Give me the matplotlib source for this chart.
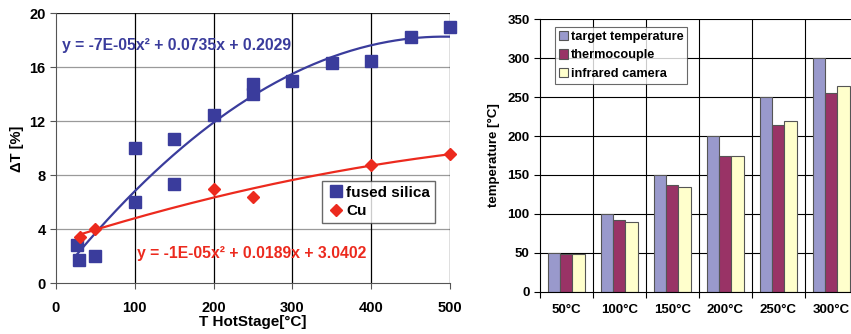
import numpy as np
import matplotlib
matplotlib.use("Agg")
import matplotlib.pyplot as plt

plt.rcParams['font.family'] = ['Liberation Sans', 'DejaVu Sans']
plt.rcParams['font.weight'] = 'bold'

# left chart: delta T vs hot stage temperature
silica_x = [27, 29, 50, 100, 100, 150, 150, 200, 250, 250, 300, 350, 400, 450, 500]
silica_y = [2.85, 1.75, 2.0, 10.0, 6.0, 10.7, 7.35, 12.5, 14.8, 14.0, 15.0, 16.3, 16.5, 18.25, 19.0]
cu_x = [30, 50, 200, 250, 400, 500]
cu_y = [3.45, 4.05, 7.0, 6.4, 8.75, 9.6]
silica_eq = "y = -7E-05x² + 0.0735x + 0.2029"
cu_eq = "y = -1E-05x² + 0.0189x + 3.0402"

# right chart: measured temperatures
categories = ["50°C", "100°C", "150°C", "200°C", "250°C", "300°C"]
target = [50, 100, 150, 200, 250, 300]
thermo = [49, 92, 137, 175, 214, 255]
infrared = [48, 90, 134, 175, 220, 264]

blue = '#3A3C9C'
red = '#EC2A1E'

fig = plt.figure(figsize=(8.51, 3.34), dpi=100)

# ---- left panel ----
ax1 = fig.add_axes([0.0658, 0.1518, 0.463, 0.8082])
ax1.set_xlim(0, 500)
ax1.set_ylim(0, 20)
ax1.set_xticks(np.arange(0, 501, 100))
ax1.set_yticks(np.arange(0, 21, 4))
for v in np.arange(4, 20, 4):
    ax1.axhline(v, color='#9a9a9a', lw=0.9, zorder=0)
ax1.axhline(20, color='#222222', lw=0.9, zorder=0)
for v in np.arange(100, 501, 100):
    ax1.axvline(v, color='black', lw=0.9, zorder=0)
for s in ['top', 'right']:
    ax1.spines[s].set_visible(False)
for s in ['left', 'bottom']:
    ax1.spines[s].set_color('#555555')

# trend lines (2nd order poly like in excel)
cs = np.polyfit(silica_x, silica_y, 2)
xs = np.linspace(min(silica_x), max(silica_x), 200)
ax1.plot(xs, np.polyval(cs, xs), color=blue, lw=1.6, zorder=2)
cc = np.polyfit(cu_x, cu_y, 2)
xc = np.linspace(min(cu_x), max(cu_x), 200)
ax1.plot(xc, np.polyval(cc, xc), color=red, lw=1.6, zorder=2)

ax1.plot(silica_x, silica_y, 's', color=blue, ms=8.5, label='fused silica', zorder=3, clip_on=False)
ax1.plot(cu_x, cu_y, 'D', color=red, ms=6, label='Cu', zorder=3, clip_on=False)

ax1.text(8, 17.65, silica_eq, color=blue, fontsize=11.3, fontweight='bold', va='center')
ax1.text(103, 2.2, cu_eq, color=red, fontsize=11.3, fontweight='bold', va='center')

ax1.tick_params(direction='out', length=4, labelsize=10.5, color='#555555')
ax1.tick_params(axis='x', pad=9)
ax1.set_xlabel("T HotStage[°C]", fontsize=11, fontweight='bold', labelpad=0)
ax1.set_ylabel("ΔT [%]", fontsize=10.5, fontweight='bold', labelpad=4)
leg = ax1.legend(loc='upper left', bbox_to_anchor=(0.675, 0.378), fontsize=11,
                 frameon=True, fancybox=False, handletextpad=0.1, handlelength=1.2,
                 borderpad=0.3, labelspacing=0.3, borderaxespad=0)
leg.get_frame().set_edgecolor('#444444')
leg.get_frame().set_linewidth(1.0)
for t in leg.get_texts():
    t.set_fontweight('bold')

# ---- right panel ----
ax2 = fig.add_axes([0.6345, 0.1266, 0.3737, 0.8155])
n = len(categories)
x = np.arange(n)
w = 0.227
ax2.bar(x - w, target, w, color='#9999CC', edgecolor='#555555', lw=0.8, label='target temperature', zorder=2)
ax2.bar(x, thermo, w, color='#993366', edgecolor='#555555', lw=0.8, label='thermocouple', zorder=2)
ax2.bar(x + w, infrared, w, color='#FFFFCC', edgecolor='#555555', lw=0.8, label='infrared camera', zorder=2)
ax2.set_xlim(-0.5, n - 0.5)
ax2.set_ylim(0, 350)
ax2.set_yticks(np.arange(0, 351, 50))
for v in np.arange(50, 351, 50):
    ax2.axhline(v, color='black', lw=0.8, zorder=0)
for v in np.arange(0.5, n - 0.5, 1):
    ax2.axvline(v, color='black', lw=0.8, zorder=0)
ax2.set_xticks(np.arange(-0.5, n, 1), minor=False)
ax2.set_xticklabels([])
ax2.set_xticks(x, minor=True)
ax2.set_xticklabels(categories, minor=True)
ax2.tick_params(axis='x', which='minor', length=0, pad=9, labelsize=9.5)
ax2.tick_params(axis='x', which='major', direction='out', length=4)
ax2.tick_params(axis='y', direction='out', length=4, labelsize=9.5)
for t in ax2.get_xticklabels(minor=True) + ax2.get_yticklabels():
    t.set_fontweight('bold')
for s in ['top', 'right']:
    ax2.spines[s].set_visible(False)
ax2.set_ylabel("temperature [°C]", fontsize=9.5, fontweight='bold', labelpad=5)
leg2 = ax2.legend(loc='upper left', bbox_to_anchor=(0.047, 0.972), fontsize=9.2,
                  frameon=True, fancybox=False, handlelength=0.75, handleheight=0.75,
                  handletextpad=0.2, borderpad=0.3, labelspacing=0.5, borderaxespad=0)
leg2.get_frame().set_edgecolor('#444444')
leg2.get_frame().set_linewidth(0.8)
for t in leg2.get_texts():
    t.set_fontweight('bold')

fig.savefig("out.png", dpi=100)
